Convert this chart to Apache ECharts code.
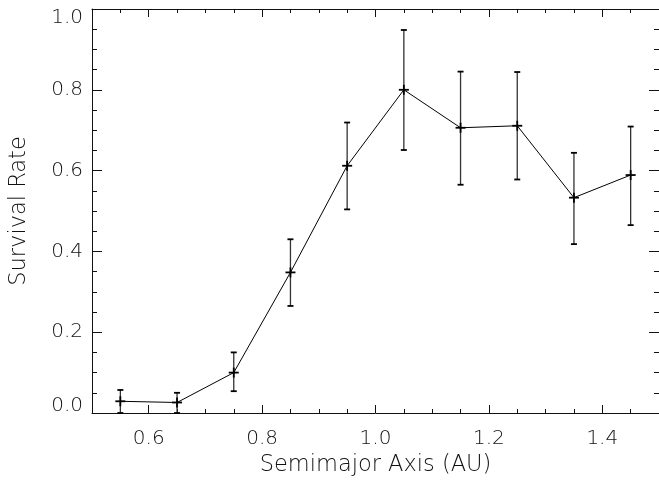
<!DOCTYPE html>
<html><head><meta charset="utf-8">
<script src="https://cdn.jsdelivr.net/npm/echarts@6/dist/echarts.min.js"></script>
<style>html,body{margin:0;padding:0;background:#fff}#c{width:659px;height:482px}</style>
</head><body><div id="c"></div>
<script>
const semimajor = [0.55, 0.65, 0.75, 0.85, 0.95, 1.05, 1.15, 1.25, 1.35, 1.45];
const survival  = [0.029, 0.026, 0.100, 0.348, 0.612, 0.800, 0.706, 0.711, 0.533, 0.589];
const errUpper  = [0.057, 0.050, 0.150, 0.430, 0.719, 0.948, 0.845, 0.844, 0.644, 0.709];
const errLower  = [0.000, 0.000, 0.054, 0.265, 0.504, 0.651, 0.565, 0.578, 0.418, 0.465];
const xMajorTicks = [0.6, 0.8, 1.0, 1.2, 1.4];
const xMinorTicks = [0.55, 0.65, 0.7, 0.75, 0.85, 0.9, 0.95, 1.05, 1.1, 1.15, 1.25, 1.3, 1.35, 1.45];

const FONT = 'DejaVu Sans';
const INK = '#111';
const lbl = {fontFamily: FONT, fontWeight: 200, fontSize: 20, color: INK};
const nameLbl = {fontFamily: FONT, fontWeight: 200, fontSize: 22.5, color: INK};

function xAxisDef(pos, major, showLine, showLabel) {
  return {
    type: 'value', position: pos, min: 0.5, max: 1.5, gridIndex: 0,
    axisLine: {show: showLine, lineStyle: {color: INK, width: 1}},
    splitLine: {show: false},
    axisTick: {show: true, inside: true, length: major ? 8 : 4,
      customValues: major ? xMajorTicks : xMinorTicks, lineStyle: {color: INK, width: 1}},
    axisLabel: Object.assign({show: showLabel, margin: 16,
      customValues: xMajorTicks, formatter: v => v.toFixed(1)}, lbl)
  };
}
function yAxisDef(pos, showLabel) {
  return {
    type: 'value', position: pos, min: 0, max: 1, interval: 0.2, gridIndex: 0,
    axisLine: {show: true, lineStyle: {color: INK, width: 1}},
    splitLine: {show: false},
    axisTick: {show: true, inside: true, length: 10, lineStyle: {color: INK, width: 1}},
    minorTick: {show: true, splitNumber: 4, length: 5, lineStyle: {color: INK, width: 1}},
    minorSplitLine: {show: false},
    axisLabel: Object.assign({show: showLabel, margin: 9,
      formatter: v => {
        const s = v.toFixed(1);
        if (v >= 0.999) return '{t|' + s + '}';
        if (v <= 0.001) return '{b|' + s + '}';
        return s;
      },
      rich: {
        t: Object.assign({padding: [18, 0, 0, 0]}, lbl),
        b: Object.assign({padding: [0, 0, 14, 0]}, lbl)
      }}, lbl)
  };
}

const xAxes = [
  Object.assign(xAxisDef('bottom', true, true, true), {
    name: 'Semimajor Axis (AU)', nameLocation: 'middle', nameGap: 36,
    nameTextStyle: Object.assign({}, nameLbl)
  }),
  xAxisDef('bottom', false, false, false),
  xAxisDef('top', true, true, false),
  xAxisDef('top', false, false, false)
];
const yAxes = [
  Object.assign(yAxisDef('left', true), {
    name: 'Survival Rate', nameLocation: 'middle', nameGap: 61,
    nameTextStyle: Object.assign({}, nameLbl)
  }),
  yAxisDef('right', false)
];

const pts = semimajor.map((x, i) => [x, survival[i], errLower[i], errUpper[i]]);

const chart = echarts.init(document.getElementById('c'), null, {renderer: 'canvas'});
chart.setOption({
  animation: false,
  backgroundColor: '#fff',
  grid: {left: 91, right: -2, top: 9, bottom: 69, containLabel: false},
  xAxis: xAxes,
  yAxis: yAxes,
  series: [
    {
      type: 'line', xAxisIndex: 0, yAxisIndex: 0,
      data: semimajor.map((x, i) => [x, survival[i]]),
      showSymbol: false, lineStyle: {color: '#000', width: 1}, z: 3
    },
    {
      type: 'custom', xAxisIndex: 0, yAxisIndex: 0, z: 4,
      data: pts,
      encode: {x: 0, y: [1, 2, 3]},
      renderItem: function (params, api) {
        const x = api.value(0);
        const c = api.coord([x, api.value(1)]);
        const lo = api.coord([x, api.value(2)]);
        const hi = api.coord([x, api.value(3)]);
        const cap = 3, m = 5;
        const st = {stroke: '#333', lineWidth: 1.3, fill: null};
        const st2 = {stroke: '#000', lineWidth: 1.8, fill: null};
        return {
          type: 'group',
          children: [
            {type: 'line', shape: {x1: c[0], y1: hi[1], x2: c[0], y2: lo[1]}, style: st},
            {type: 'line', shape: {x1: c[0] - cap, y1: hi[1], x2: c[0] + cap, y2: hi[1]}, style: st2},
            {type: 'line', shape: {x1: c[0] - cap, y1: lo[1], x2: c[0] + cap, y2: lo[1]}, style: st2},
            {type: 'line', shape: {x1: c[0] - m, y1: c[1], x2: c[0] + m, y2: c[1]}, style: st2},
            {type: 'line', shape: {x1: c[0], y1: c[1] - m, x2: c[0], y2: c[1] + m}, style: st2}
          ]
        };
      }
    }
  ]
});
</script></body></html>
